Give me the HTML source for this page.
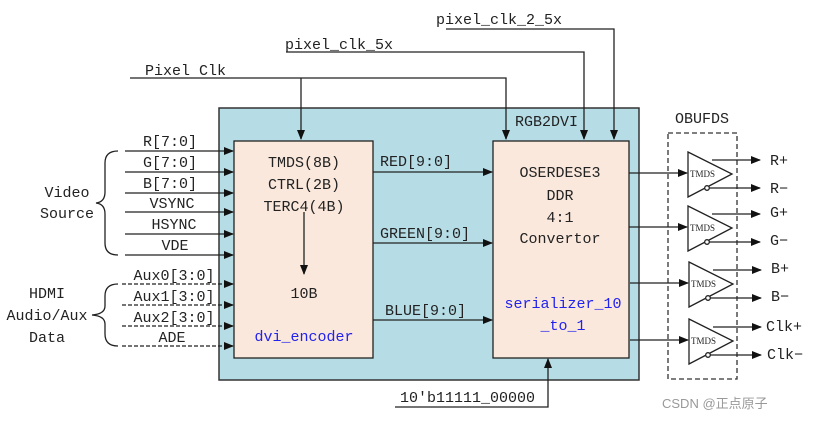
<!DOCTYPE html>
<html><head><meta charset="utf-8"><style>
html,body{margin:0;padding:0;background:#fff;}
svg{display:block;}
text{font-family:"Liberation Mono","Noto Serif CJK SC",monospace;font-size:15px;fill:#222;}
</style></head><body>
<svg width="813" height="421" viewBox="0 0 813 421" xmlns="http://www.w3.org/2000/svg">
<defs>
<marker id="a" markerWidth="10" markerHeight="8" refX="9" refY="4" orient="auto" markerUnits="userSpaceOnUse">
<path d="M0,0 L10,4 L0,8 z" fill="#111"/></marker>
</defs>
<g stroke="#222" stroke-width="1.3" fill="none">
<rect x="219" y="108" width="420" height="272" fill="#b6dde6" stroke="#333" stroke-width="1.5"/>
<rect x="234" y="141" width="139" height="217" fill="#fbe8dc"/>
<rect x="493" y="141" width="136" height="217" fill="#fbe8dc"/>
<path d="M130 78 H506 V139" marker-end="url(#a)"/>
<path d="M301 78 V139" marker-end="url(#a)"/>
<path d="M286 52 H584 V139" marker-end="url(#a)"/>
<path d="M446 29 H614 V139" marker-end="url(#a)"/>
<path d="M125 151 H233" marker-end="url(#a)"/>
<path d="M125 172 H233" marker-end="url(#a)"/>
<path d="M125 193 H233" marker-end="url(#a)"/>
<path d="M125 212 H233" marker-end="url(#a)"/>
<path d="M125 234 H233" marker-end="url(#a)"/>
<path d="M125 255 H233" marker-end="url(#a)"/>
<g stroke-dasharray="4,2">
<path d="M122 284 H233" marker-end="url(#a)"/>
<path d="M122 305 H233" marker-end="url(#a)"/>
<path d="M122 326 H233" marker-end="url(#a)"/>
<path d="M122 346 H233" marker-end="url(#a)"/>
</g>
<path d="M118 151 Q105 151 105 163 V192 Q105 202 96 203 Q105 204 105 214 V243 Q105 255 118 255"/>
<path d="M118 284 Q105 284 105 296 V306 Q105 314 92 315 Q105 316 105 324 V334 Q105 346 118 346"/>
<path d="M304 212 V274" marker-end="url(#a)"/>
<path d="M373 172 H492" marker-end="url(#a)"/>
<path d="M373 243 H492" marker-end="url(#a)"/>
<path d="M373 320 H492" marker-end="url(#a)"/>
<path d="M395 407 H548 V359" marker-end="url(#a)"/>
<rect x="668" y="133" width="69" height="246" stroke-dasharray="5,3" stroke="#333"/>
<g id="t">
<path d="M629 173 H687" marker-end="url(#a)"/>
<path d="M688 152 L732 174 L688 197 z"/>
<path d="M712 160 H760" marker-end="url(#a)"/>
<circle cx="707" cy="188" r="2.3" fill="#fff"/>
<path d="M709 188 H760" marker-end="url(#a)"/>
</g>
<use href="#t" transform="translate(0,54)"/>
<use href="#t" transform="translate(1,110)"/>
<use href="#t" transform="translate(1,167)"/>
</g>
<g text-anchor="middle">
<text x="170" y="146">R[7:0]</text>
<text x="170" y="167">G[7:0]</text>
<text x="170" y="188">B[7:0]</text>
<text x="172" y="208">VSYNC</text>
<text x="174" y="229">HSYNC</text>
<text x="175" y="250">VDE</text>
<text x="174" y="280">Aux0[3:0]</text>
<text x="174" y="301">Aux1[3:0]</text>
<text x="174" y="322">Aux2[3:0]</text>
<text x="172" y="342">ADE</text>
<text x="67" y="197">Video</text>
<text x="67" y="218">Source</text>
<text x="47" y="298">HDMI</text>
<text x="47" y="320">Audio/Aux</text>
<text x="47" y="342">Data</text>
<text x="304" y="167">TMDS(8B)</text>
<text x="304" y="189">CTRL(2B)</text>
<text x="304" y="211">TERC4(4B)</text>
<text x="304" y="298">10B</text>
<text x="304" y="341" style="fill:#2222ee">dvi_encoder</text>
<text x="560" y="177">OSERDESE3</text>
<text x="560" y="200">DDR</text>
<text x="560" y="222">4:1</text>
<text x="560" y="243">Convertor</text>
<text x="563" y="308" style="fill:#2222ee">serializer_10</text>
<text x="563" y="330" style="fill:#2222ee">_to_1</text>
<text x="702" y="123">OBUFDS</text>
</g>
<text x="145" y="75">Pixel Clk</text>
<text x="285" y="49">pixel_clk_5x</text>
<text x="436" y="24">pixel_clk_2_5x</text>
<text x="515" y="126">RGB2DVI</text>
<text x="380" y="166">RED[9:0]</text>
<text x="380" y="238">GREEN[9:0]</text>
<text x="385" y="315">BLUE[9:0]</text>
<text x="400" y="402">10'b11111_00000</text>
<text x="690" y="177" style="font-size:9px;font-family:'Liberation Serif',serif">TMDS</text>
<text x="690" y="231" style="font-size:9px;font-family:'Liberation Serif',serif">TMDS</text>
<text x="691" y="287" style="font-size:9px;font-family:'Liberation Serif',serif">TMDS</text>
<text x="691" y="344" style="font-size:9px;font-family:'Liberation Serif',serif">TMDS</text>
<text x="770" y="165">R+</text>
<text x="770" y="193">R−</text>
<text x="770" y="217">G+</text>
<text x="770" y="245">G−</text>
<text x="771" y="273">B+</text>
<text x="771" y="301">B−</text>
<text x="766" y="331">Clk+</text>
<text x="767" y="359">Clk−</text>
<text x="662" y="408" style="font-family:'Liberation Sans','Noto Sans CJK SC',sans-serif;fill:#999;font-size:13px">CSDN @正点原子</text>
</svg>
</body></html>
